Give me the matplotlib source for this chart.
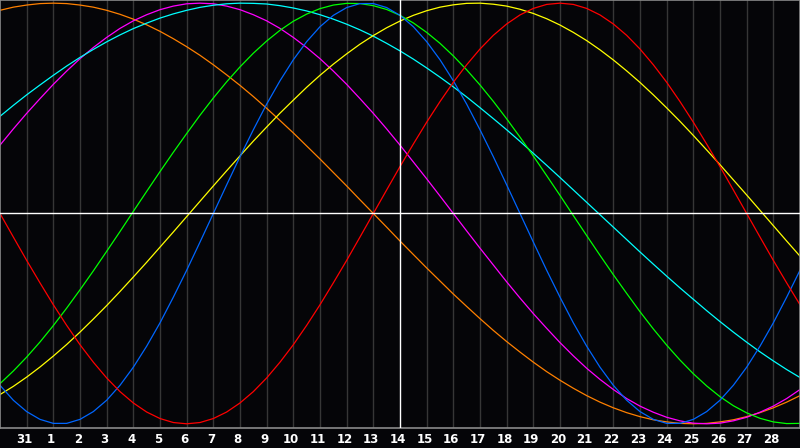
import numpy as np
import matplotlib
matplotlib.use("Agg")
import matplotlib.pyplot as plt
from matplotlib.transforms import blended_transform_factory

# day labels along the bottom (previous month's 31, then 1..28)
day_labels = ["31"] + [str(k) for k in range(1, 29)]
today = "14"

# values read every half day, from the left edge (day 0) to the right edge (day 30)
red = [0.000, -0.112, -0.223, -0.330, -0.434, -0.532, -0.624, -0.707, -0.782, -0.847,
       -0.901, -0.944, -0.975, -0.994, -1.000, -0.994, -0.975, -0.944, -0.901, -0.847,
       -0.782, -0.707, -0.624, -0.532, -0.434, -0.330, -0.223, -0.112, 0.000,
       0.112, 0.223, 0.330, 0.434, 0.532, 0.624, 0.707, 0.782, 0.847, 0.901, 0.944,
       0.975, 0.994, 1.000, 0.994, 0.975, 0.944, 0.901, 0.847, 0.782, 0.707, 0.624,
       0.532, 0.434, 0.330, 0.223, 0.112, 0.000, -0.112, -0.223, -0.330, -0.434]
blue = [-0.817, -0.888, -0.942, -0.979, -0.998, -0.998, -0.979, -0.942, -0.888, -0.817,
        -0.731, -0.631, -0.520, -0.398, -0.270, -0.136, 0.000, 0.136, 0.270, 0.398,
        0.520, 0.631, 0.731, 0.817, 0.888, 0.942, 0.979, 0.998, 0.998, 0.979,
        0.942, 0.888, 0.817, 0.731, 0.631, 0.520, 0.398, 0.270, 0.136, 0.000,
        -0.136, -0.270, -0.398, -0.520, -0.631, -0.731, -0.817, -0.888, -0.942, -0.979,
        -0.998, -0.998, -0.979, -0.942, -0.888, -0.817, -0.731, -0.631, -0.520, -0.398,
        -0.270]
green = [-0.809, -0.749, -0.683, -0.611, -0.533, -0.450, -0.363, -0.273, -0.180, -0.086,
         0.010, 0.105, 0.199, 0.291, 0.380, 0.467, 0.549, 0.626, 0.697, 0.762,
         0.820, 0.871, 0.914, 0.948, 0.974, 0.991, 0.999, 0.998, 0.988, 0.970,
         0.942, 0.906, 0.861, 0.809, 0.749, 0.683, 0.611, 0.533, 0.450, 0.363,
         0.273, 0.180, 0.086, -0.010, -0.105, -0.199, -0.291, -0.380, -0.467, -0.549,
         -0.626, -0.697, -0.762, -0.820, -0.871, -0.914, -0.948, -0.974, -0.991, -0.999,
         -0.998]
yellow = [-0.861, -0.822, -0.778, -0.730, -0.678, -0.623, -0.564, -0.502, -0.438, -0.371,
          -0.302, -0.232, -0.160, -0.088, -0.015, 0.058, 0.131, 0.203, 0.274, 0.344,
          0.411, 0.477, 0.539, 0.600, 0.657, 0.710, 0.759, 0.805, 0.846, 0.883,
          0.915, 0.942, 0.964, 0.981, 0.992, 0.999, 1.000, 0.995, 0.986, 0.971,
          0.951, 0.926, 0.896, 0.861, 0.822, 0.778, 0.730, 0.678, 0.623, 0.564,
          0.502, 0.438, 0.371, 0.302, 0.232, 0.160, 0.088, 0.015, -0.058, -0.131,
          -0.203]
cyan = [0.462, 0.514, 0.564, 0.611, 0.657, 0.701, 0.742, 0.780, 0.816, 0.849,
        0.879, 0.905, 0.929, 0.949, 0.966, 0.980, 0.990, 0.997, 1.000, 0.999,
        0.996, 0.988, 0.977, 0.963, 0.945, 0.924, 0.900, 0.873, 0.843, 0.809,
        0.773, 0.734, 0.692, 0.648, 0.602, 0.554, 0.503, 0.451, 0.398, 0.343,
        0.286, 0.229, 0.171, 0.112, 0.053, -0.006, -0.065, -0.124, -0.183, -0.241,
        -0.298, -0.354, -0.408, -0.462, -0.514, -0.564, -0.612, -0.658, -0.701, -0.742,
        -0.780]
magenta = [0.325, 0.402, 0.476, 0.546, 0.614, 0.677, 0.736, 0.789, 0.837, 0.880,
           0.916, 0.945, 0.969, 0.986, 0.997, 1.000, 0.997, 0.986, 0.969, 0.945,
           0.916, 0.880, 0.837, 0.789, 0.736, 0.677, 0.614, 0.546, 0.476, 0.402,
           0.325, 0.245, 0.165, 0.083, 0.000, -0.083, -0.165, -0.245, -0.325, -0.402,
           -0.476, -0.546, -0.614, -0.677, -0.736, -0.789, -0.837, -0.880, -0.916, -0.945,
           -0.969, -0.986, -0.997, -1.000, -0.997, -0.986, -0.969, -0.945, -0.916, -0.880,
           -0.837]
orange = [0.966, 0.981, 0.991, 0.998, 1.000, 0.998, 0.991, 0.981, 0.966, 0.947,
          0.924, 0.897, 0.866, 0.831, 0.793, 0.752, 0.707, 0.659, 0.609, 0.556,
          0.500, 0.442, 0.383, 0.321, 0.259, 0.195, 0.131, 0.065, 0.000, -0.065,
          -0.131, -0.195, -0.259, -0.321, -0.383, -0.442, -0.500, -0.556, -0.609, -0.659,
          -0.707, -0.752, -0.793, -0.831, -0.866, -0.897, -0.924, -0.947, -0.966, -0.981,
          -0.991, -0.998, -1.000, -0.998, -0.991, -0.981, -0.966, -0.947, -0.924, -0.897,
          -0.866]

series = [
    (orange, "#ff8000"),
    (magenta, "#ff00ff"),
    (cyan, "#00ffff"),
    (yellow, "#ffff00"),
    (green, "#00ff00"),
    (blue, "#0066ff"),
    (red, "#ff0000"),
]

bg = "#050508"
W, H, plot_h = 800, 448, 428

fig = plt.figure(figsize=(W / 100, H / 100), dpi=100, facecolor=bg)
ax = fig.add_axes([0, (H - plot_h) / H, 1, plot_h / H])
ax.set_facecolor(bg)

days = np.arange(len(red)) * 0.5
ax.set_xlim(0, days[-1])
ax.set_ylim(-1.02, 1.015)

# vertical day grid, today's line in white
today_idx = day_labels.index(today)
for i in range(len(day_labels)):
    if i == today_idx:
        ax.axvline(i + 1, color="white", lw=1, zorder=3)
    else:
        ax.axvline(i + 1, color="#363636", lw=1, zorder=1)
ax.axhline(0, color="white", lw=1, zorder=3)

for vals, col in series:
    ax.plot(days, vals, color=col, lw=0.9, zorder=2)

for s in ax.spines.values():
    s.set_color("#8a8a8a")
    s.set_linewidth(1.2)
ax.set_xticks([])
ax.set_yticks([])

trans = blended_transform_factory(ax.transData, ax.transAxes)
for i, lab in enumerate(day_labels):
    ax.text(i + 1 - 0.08, -0.026, lab, transform=trans, ha="center", va="center",
            color="white", fontsize=8.5, fontweight="bold")

fig.savefig("out.png", dpi=100, facecolor=bg)
